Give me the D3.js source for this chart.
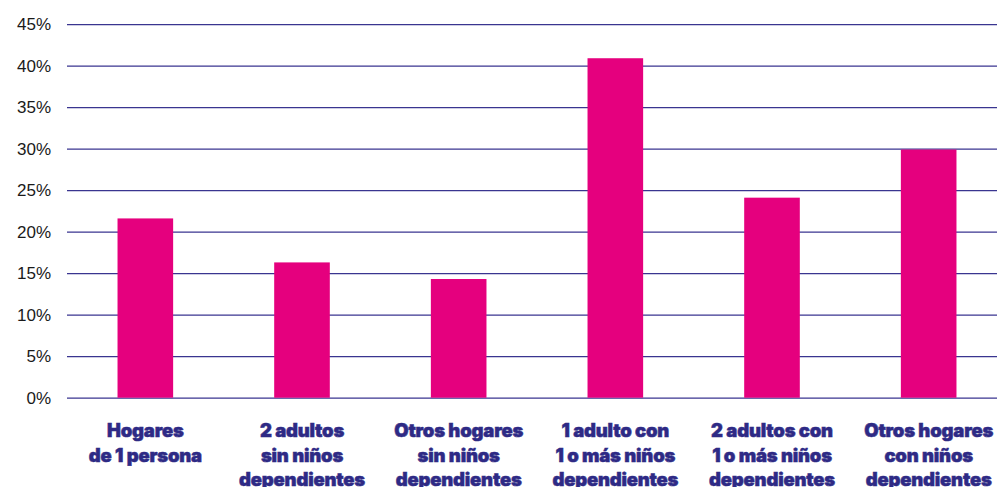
<!DOCTYPE html>
<html>
<head>
<meta charset="utf-8">
<script src="https://cdn.jsdelivr.net/npm/d3@7"></script>
<style>
  html, body { margin: 0; padding: 0; background: #fff; }
  svg { display: block; }
</style>
</head>
<body>
<svg id="chart" width="997" height="487"></svg>
<script>
// categories (each line of a label is its own entry)
var categories = [
  ["Hogares", "de 1 persona"],
  ["2 adultos", "sin niños", "dependientes"],
  ["Otros hogares", "sin niños", "dependientes"],
  ["1 adulto con", "1 o más niños", "dependientes"],
  ["2 adultos con", "1 o más niños", "dependientes"],
  ["Otros hogares", "con niños", "dependientes"]
];
var values = [21.6, 16.3, 14.3, 40.9, 24.1, 29.9];
var yTicks = [0, 5, 10, 15, 20, 25, 30, 35, 40, 45];

var svg = d3.select("#chart"),
    plotLeft = 67, plotRight = 1007, plotTop = 24.2, plotBottom = 397.7;

var x = d3.scaleBand()
  .domain(d3.range(categories.length))
  .range([plotLeft, plotRight])
  .paddingInner(0.645)
  .paddingOuter(0.3225);

var y = d3.scaleLinear()
  .domain([0, 45])
  .range([plotBottom, plotTop]);

// gridlines + tick labels
var yAxis = d3.axisLeft(y)
  .tickValues(yTicks)
  .tickSize(-(997 - plotLeft))
  .tickPadding(16)
  .tickFormat(function(d) { return d + "%"; });

var gy = svg.append("g")
  .attr("transform", "translate(" + plotLeft + ",0)")
  .call(yAxis);
gy.select(".domain").remove();
gy.selectAll(".tick line")
  .attr("stroke", "#3a3590")
  .attr("stroke-width", 1.3);
gy.selectAll(".tick text")
  .attr("fill", "#1a1a1a")
  .attr("font-family", "'Liberation Sans', Arial, sans-serif")
  .attr("font-size", 17)
  .attr("x", -16);

// bars
svg.append("g").selectAll("rect")
  .data(values)
  .enter()
  .append("rect")
    .attr("x", function(d, i) { return x(i); })
    .attr("y", function(d) { return y(d); })
    .attr("width", x.bandwidth())
    .attr("height", function(d) { return y(0) - y(d); })
    .attr("fill", "#e5007e");

// category labels
var labels = svg.append("g").selectAll("text")
  .data(categories)
  .enter()
  .append("text")
    .attr("text-anchor", "middle")
    .attr("fill", "#2e2a85")
    .attr("stroke", "#2e2a85")
    .attr("stroke-width", 0.5)
    .attr("font-family", "Inter, 'Noto Sans', sans-serif")
    .attr("font-weight", 900)
    .attr("font-size", 18.5)
    .attr("letter-spacing", -0.2)
    .attr("transform", function(d, i) {
      return "translate(" + (x(i) + x.bandwidth() / 2) + ",437)";
    });

labels.selectAll("tspan")
  .data(function(d) { return d; })
  .enter()
  .append("tspan")
    .attr("x", 0)
    .attr("dy", function(d, i) { return i === 0 ? 0 : 24.5; })
    .text(function(d) { return d; });
</script>
</body>
</html>
